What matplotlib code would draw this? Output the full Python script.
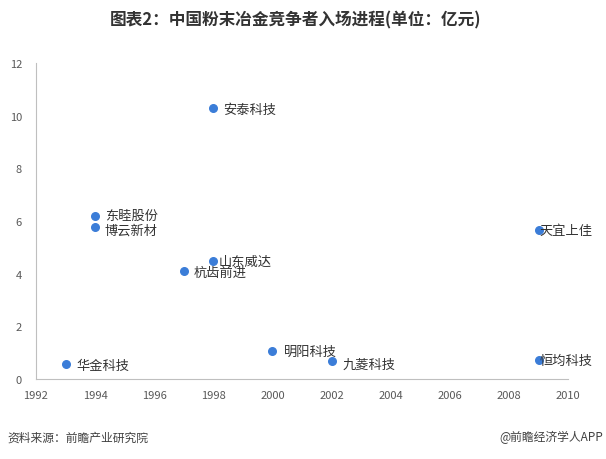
import matplotlib.pyplot as plt

plt.rcParams['font.family'] = ['Noto Sans CJK SC', 'DejaVu Sans']

companies = ['华金科技', '东睦股份', '博云新材', '杭齿前进', '安泰科技',
             '山东威达', '明阳科技', '九菱科技', '天宜上佳', '恒均科技']
years = [1993, 1994, 1994, 1997, 1998, 1998, 2000, 2002, 2009, 2009]
values = [0.55, 6.2, 5.76, 4.09, 10.28, 4.47, 1.05, 0.67, 5.64, 0.72]
# label offsets in points (dx, dy)
offsets = [(8, -1), (7, 0), (7, -2), (7, -1), (7, -1),
           (4, 0), (8, 0), (8, -2), (1, 0), (1, 0)]

fig = plt.figure(figsize=(6.06, 4.6), dpi=100)
ax = fig.add_axes([0.0594, 0.174, 0.878, 0.687])

ax.scatter(years, values, s=30, color='#3b7dd8', zorder=3)
for name, x, y, (dx, dy) in zip(companies, years, values, offsets):
    ax.annotate(name, (x, y), xytext=(dx, dy), textcoords='offset points',
                ha='left', va='center', fontsize=9.5, color='#333333')

ax.set_xlim(1992, 2010)
ax.set_ylim(0, 12)
ax.set_xticks(range(1992, 2011, 2))
ax.set_yticks(range(0, 13, 2))
ax.tick_params(axis='x', length=0, labelsize=8, colors='#595959', pad=8)
ax.tick_params(axis='y', length=0, labelsize=8, colors='#595959', pad=10)
for s in ['top', 'right']:
    ax.spines[s].set_visible(False)
for s in ['left', 'bottom']:
    ax.spines[s].set_color('#bfbfbf')

fig.text(0.487, 0.955, '图表2：中国粉末冶金竞争者入场进程(单位：亿元)', ha='center', va='center',
         fontsize=12, fontweight='bold', color='#333333')
fig.text(0.012, 0.048, '资料来源：前瞻产业研究院', ha='left', va='center',
         fontsize=8.5, color='#404040')
fig.text(0.995, 0.048, '@前瞻经济学人APP', ha='right', va='center',
         fontsize=8.5, color='#404040')

fig.savefig('out.png', dpi=100)
